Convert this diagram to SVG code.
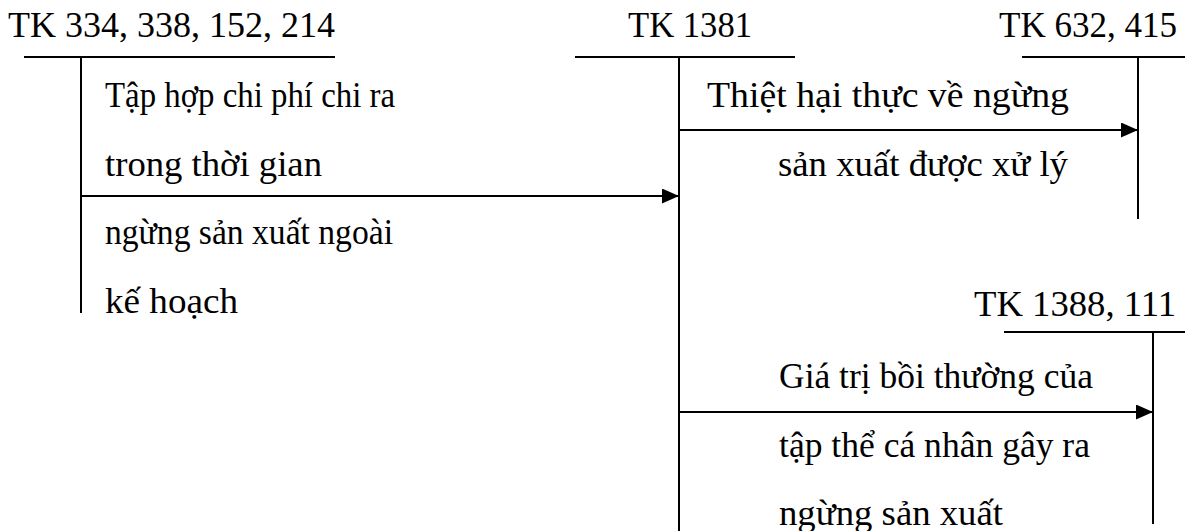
<svg xmlns="http://www.w3.org/2000/svg" width="1185" height="531" viewBox="0 0 1185 531">
  <style>
    text { font-family: "Liberation Serif", "Times New Roman", serif; font-size: 35px; fill: #000; }
    .rule { stroke: #000; stroke-width: 2; fill: none; }
    .flow { stroke: #000; stroke-width: 2; fill: none; marker-end: url(#head); }
  </style>
  <defs>
    <marker id="head" markerWidth="17" markerHeight="15" refX="17" refY="7.5" orient="auto" markerUnits="userSpaceOnUse">
      <path d="M0,0 L17,7.5 L0,15 Z" fill="#000"/>
    </marker>
  </defs>
  <rect width="1185" height="531" fill="#fff"/>

  <!-- T-account: TK 334, 338, 152, 214 -->
  <g id="tk334">
    <text x="8" y="37" textLength="327" lengthAdjust="spacingAndGlyphs">TK 334, 338, 152, 214</text>
    <line class="rule" x1="24" y1="57" x2="335" y2="57"/>
    <line class="rule" x1="81" y1="57" x2="81" y2="313"/>
  </g>

  <!-- T-account: TK 1381 -->
  <g id="tk1381">
    <text x="628" y="37" textLength="124" lengthAdjust="spacingAndGlyphs">TK 1381</text>
    <line class="rule" x1="575" y1="57" x2="795" y2="57"/>
    <line class="rule" x1="679" y1="57" x2="679" y2="531"/>
  </g>

  <!-- T-account: TK 632, 415 -->
  <g id="tk632">
    <text x="999" y="37" textLength="178" lengthAdjust="spacingAndGlyphs">TK 632, 415</text>
    <line class="rule" x1="1022" y1="57" x2="1185" y2="57"/>
    <line class="rule" x1="1138" y1="57" x2="1138" y2="219"/>
  </g>

  <!-- T-account: TK 1388, 111 -->
  <g id="tk1388">
    <text x="974" y="316" textLength="202" lengthAdjust="spacingAndGlyphs">TK 1388, 111</text>
    <line class="rule" x1="1004" y1="332" x2="1185" y2="332"/>
    <line class="rule" x1="1153" y1="332" x2="1153" y2="524"/>
  </g>

  <!-- Entry labels -->
  <g id="label-costs">
    <text x="105" y="107" textLength="290" lengthAdjust="spacingAndGlyphs">Tập hợp chi phí chi ra</text>
    <text x="105" y="176" textLength="217" lengthAdjust="spacingAndGlyphs">trong thời gian</text>
    <text x="105" y="244" textLength="288" lengthAdjust="spacingAndGlyphs">ngừng sản xuất ngoài</text>
    <text x="105" y="313" textLength="133" lengthAdjust="spacingAndGlyphs">kế hoạch</text>
  </g>
  <g id="label-loss">
    <text x="707" y="107" textLength="362" lengthAdjust="spacingAndGlyphs">Thiệt hại thực về ngừng</text>
    <text x="778" y="176" textLength="290" lengthAdjust="spacingAndGlyphs">sản xuất được xử lý</text>
  </g>
  <g id="label-comp">
    <text x="779" y="388" textLength="314" lengthAdjust="spacingAndGlyphs">Giá trị bồi thường của</text>
    <text x="779" y="457" textLength="311" lengthAdjust="spacingAndGlyphs">tập thể cá nhân gây ra</text>
    <text x="779" y="525" textLength="224" lengthAdjust="spacingAndGlyphs">ngừng sản xuất</text>
  </g>

  <!-- Connectors -->
  <g id="connectors">
    <line class="flow" x1="81" y1="196" x2="679" y2="196"/>
    <line class="flow" x1="679" y1="130" x2="1138" y2="130"/>
    <line class="flow" x1="679" y1="412" x2="1153" y2="412"/>
  </g>
</svg>
